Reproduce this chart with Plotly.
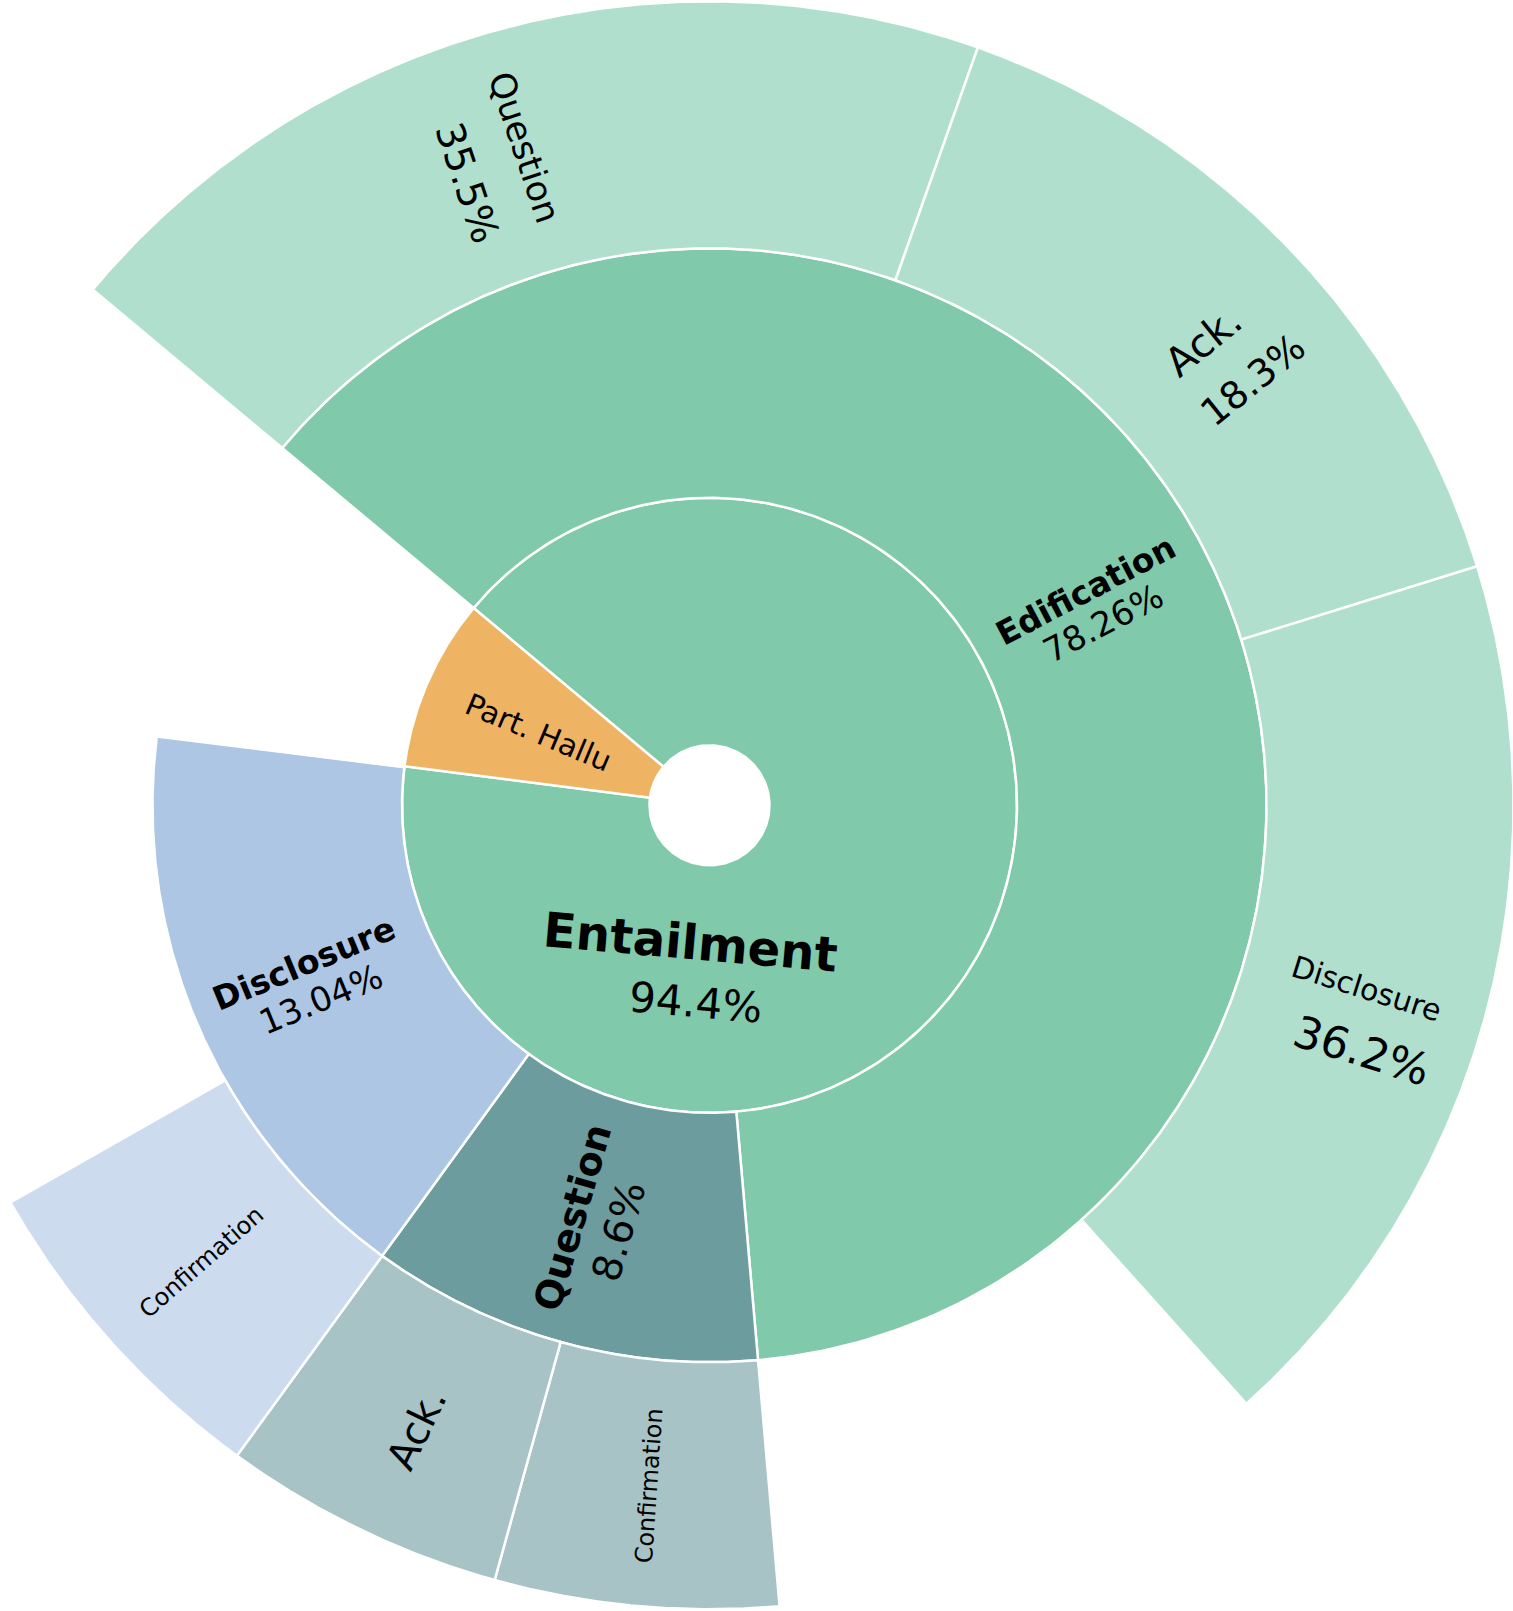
import numpy as np
import plotly.graph_objects as go

# ---- slices (angles in degrees, counter-clockwise from 3 o'clock) ----
labels = ["Entailment", "Part. Hallu",
          "Edification", "Question", "Disclosure",
          "Question", "Ack.", "Disclosure", "Confirmation", "Ack.", "Confirmation"]
shares = ["94.4%", "",
          "78.26%", "8.6%", "13.04%",
          "35.5%", "18.3%", "36.2%", "", "", ""]
levels = [0, 0, 1, 1, 1, 2, 2, 2, 2, 2, 2]
theta_start = [172.7, 140.1, -85.0, -126.0, 172.9, 70.5, 17.3, -48.1, -105.5, -126.0, -150.4]
theta_end = [500.1, 172.7, 140.1, -85.0, 234.0, 140.1, 70.5, 17.3, -85.0, -105.5, -126.0]

colors = ["#80C9AB", "#EFB463",
          "#80C9AB", "#6C9C9D", "#ADC6E4",
          "#B0DFCE", "#B0DFCE", "#B0DFCE", "#A7C3C5", "#A7C3C5", "#CCDBEE"]

# ring boundaries (px) and figure geometry
RING_EDGES = [60, 307.5, 557, 804]
W, H = 1513, 1611
CX, CY = 709.5, 805.3  # centre of the rings, from top-left of the page

# ---- label placement (polar position of name / share line) ----
name_r = [138, 186, 433, 434, 435, 683, 678, 682, 683, 689, 683]
name_theta = [-98.1, 156.9, 29.8, -108.3, -158.7, 105.7, 43.2, -15.6, -138.0, -115.2, -95.1]
pct_r = [198, 0, 434, 435, 434, 668, 690, 697, 0, 0, 0]
pct_theta = [-94.2, 0, 24.9, -102.1, -153.5, 111.3, 38.0, -20.6, 0, 0, 0]
text_angle = [5, 22.8, -27.6, -74, -22.5, 71.4, -39, 17.4, -41, -64, -86]
name_size = [48, 30, 33, 38, 33, 35, 40, 30, 24, 40, 24]
pct_size = [42, 0, 34, 40, 34, 39, 38, 44, 0, 0, 0]
bold = [True, False, True, True, True, False, False, False, False, False, False]


def wedge(r0, r1, t0, t1, n=240):
    t = np.radians(np.linspace(t0, t1, n))
    x = np.concatenate([r1 * np.cos(t), r0 * np.cos(t[::-1])])
    y = np.concatenate([r1 * np.sin(t), r0 * np.sin(t[::-1])])
    return np.append(x, x[0]), np.append(y, y[0])


def polar_xy(r, theta):
    a = np.radians(theta)
    return r * np.cos(a), r * np.sin(a)


fig = go.Figure()

for i, lab in enumerate(labels):
    lv = levels[i]
    xs, ys = wedge(RING_EDGES[lv], RING_EDGES[lv + 1], theta_start[i], theta_end[i])
    fig.add_trace(go.Scatter(
        x=xs, y=ys, mode="lines", fill="toself",
        fillcolor=colors[i], line=dict(color="white", width=2.5),
        name=lab, hoverinfo="name", showlegend=False,
    ))

font = "DejaVu Sans"
for i, lab in enumerate(labels):
    x, y = polar_xy(name_r[i], name_theta[i])
    fig.add_annotation(
        x=x, y=y, text=f"<b>{lab}</b>" if bold[i] else lab,
        textangle=text_angle[i], showarrow=False,
        xanchor="center", yanchor="middle",
        font=dict(family=font, size=name_size[i], color="black"),
    )
    if shares[i]:
        x, y = polar_xy(pct_r[i], pct_theta[i])
        fig.add_annotation(
            x=x, y=y, text=shares[i],
            textangle=text_angle[i], showarrow=False,
            xanchor="center", yanchor="middle",
            font=dict(family=font, size=pct_size[i], color="black"),
        )

fig.update_layout(
    width=W, height=H, autosize=False,
    margin=dict(l=0, r=0, t=0, b=0, pad=0),
    paper_bgcolor="white", plot_bgcolor="white",
    xaxis=dict(range=[-CX, W - CX], visible=False, fixedrange=True),
    yaxis=dict(range=[CY - H, CY], visible=False, fixedrange=True),
    showlegend=False,
)

# page body has a default 8px margin; drop it so the figure sits at the top-left corner
fig.write_html(
    "out.html",
    config={"displayModeBar": False},
    post_script="document.body.style.margin='0px';",
)
